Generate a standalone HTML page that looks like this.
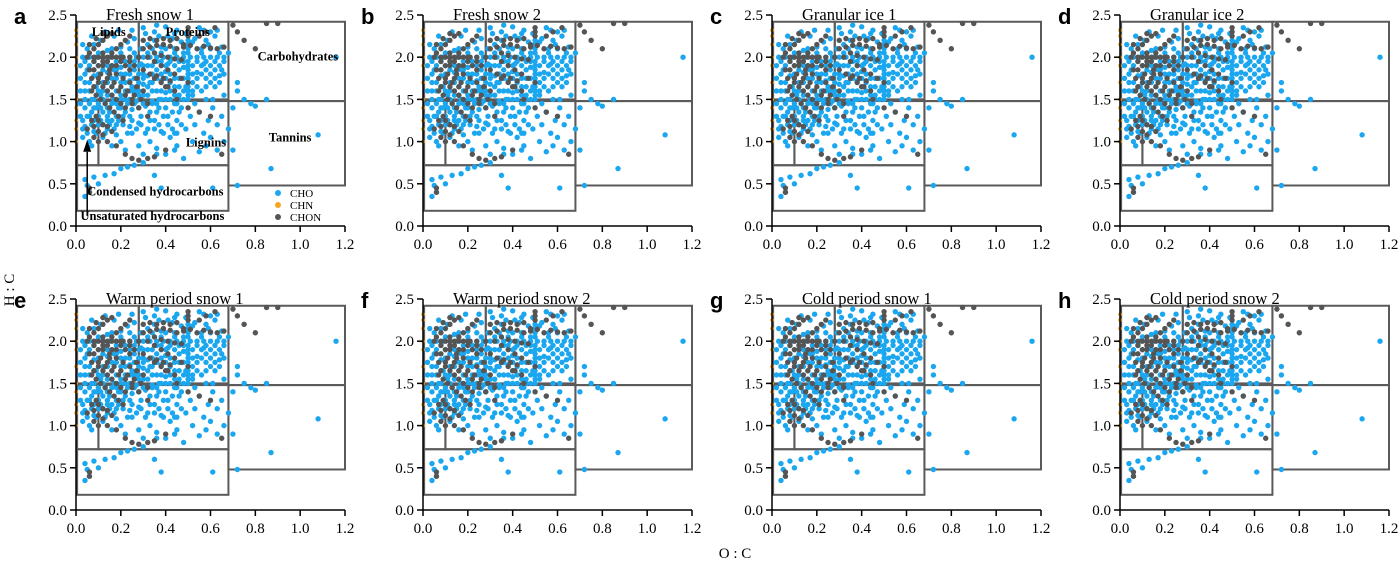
<!DOCTYPE html>
<html><head><meta charset="utf-8">
<style>
html,body{margin:0;padding:0;background:#fff;}
svg{display:block;}
</style></head>
<body>
<svg id="fig" width="1400" height="572" viewBox="0 0 1400 572" xmlns="http://www.w3.org/2000/svg" font-family="Liberation Serif, serif">
<text x="14" y="290" font-size="15" text-anchor="middle" transform="rotate(-90 14 290)">H : C</text>
<text x="735" y="558" font-size="15" text-anchor="middle">O : C</text>
</svg>
<script>
const panelLetters = ['a','b','c','d','e','f','g','h'];
const panelTitles = ['Fresh snow 1','Fresh snow 2','Granular ice 1','Granular ice 2','Warm period snow 1','Warm period snow 2','Cold period snow 1','Cold period snow 2'];
const xTicks = [0,0.2,0.4,0.6,0.8,1.0,1.2];
const yTicks = [0,0.5,1.0,1.5,2.0,2.5];
// compound class regions [x1,y1,x2,y2] in O:C / H:C
const regionBoxes = [[0.005,1.5,0.28,2.42],[0.28,1.5,0.68,2.42],[0.68,1.48,1.2,2.42],[0.005,0.72,0.1,1.48],[0.1,0.72,0.68,1.48],[0.68,0.48,1.2,1.48],[0.005,0.18,0.68,0.72]];
// CHO points (O:C*100, H:C*100)
const choPts = "3,200 6,200 9,200 12,200 15,200 18,200 21,200 24,200 27,200 30,200 33,200 36,200 39,200 42,200 45,200 48,200 51,200 54,200 57,200 60,200 63,200 66,200 50,150 50,155 50,160 50,165 50,170 50,175 50,180 50,185 50,190 50,195 50,205 50,210 50,215 50,220 5,185 8,178 10,190 12,170 14,182 16,165 18,175 20,188 22,160 24,172 26,185 28,155 30,168 32,178 34,190 36,160 38,172 40,183 42,150 44,165 46,175 48,188 52,170 54,182 56,160 58,175 60,190 62,165 64,178 66,155 4,160 7,150 9,140 11,155 13,145 15,135 17,150 19,140 21,130 23,145 25,138 27,148 29,130 31,142 33,135 35,125 37,140 39,130 41,120 43,135 45,125 47,140 49,115 51,130 53,120 55,135 57,110 59,125 61,140 63,120 65,130 5,210 8,215 11,220 14,208 17,225 20,212 23,218 26,222 29,210 32,215 35,220 38,212 41,225 44,210 47,218 53,222 56,210 59,215 62,225 65,212 45,232 55,235 60,230 35,230 40,236 3,125 4,118 5,110 3,105 6,100 8,112 7,95 10,120 12,105 14,115 16,95 18,108 20,100 22,90 25,110 28,95 30,85 33,100 36,92 40,85 42,105 45,95 48,80 52,100 55,88 58,95 60,105 63,90 66,100 68,115 70,140 72,160 75,150 78,145 80,142 85,150 72,170 68,205 4,55 5,48 6,40 4,35 8,58 10,50 13,60 17,62 20,68 23,70 26,72 30,75 35,60 38,45 36,85 44,90 61,45 70,90 72,48 87,68 108,108 116,200 6,170 9,165 13,192 17,185 21,178 25,165 29,192 33,170 37,150 41,192 45,145 49,165 53,145 57,192 61,150 65,185 10,130 14,125 18,120 24,118 28,122 32,115 38,112 44,110 7,135 11,140 20,155 26,158 34,148 40,158 46,155 58,150";
const choCorePts = "2,190 2,175 2,160 2,145 2,130 4,195 4,180 4,170 4,150 4,140 6,190 6,160 6,145 6,130 8,195 8,165 8,150 8,140 8,125 10,205 10,180 10,160 10,145 12,185 12,160 12,150 12,135 12,120 14,190 14,170 14,155 14,140 14,130 16,210 16,190 16,175 16,155 16,145 16,125 18,195 18,185 18,160 18,145 18,130 20,205 20,180 20,170 20,150 20,140 22,195 22,180 22,170 22,150 22,135 24,210 24,190 24,180 24,160 24,150 24,130 26,205 26,195 26,175 26,160 26,145 28,190 28,180 28,170 28,160 28,140 30,190 30,180 30,175 30,155 30,145 32,205 32,190 32,165 32,155 34,210 34,180 34,170 34,160 34,145 36,195 36,185 36,175 36,145 36,135 38,205 38,195 38,180 38,160 38,150 40,210 40,190 40,175 40,165 40,150 40,140 42,195 42,180 42,170 42,160 44,205 44,190 44,175 44,155 44,145 46,195 46,185 46,165 46,150 46,135 48,205 48,195 48,175 48,160 48,150 52,190 52,180 52,160 52,155 54,195 54,175 54,165 56,205 56,190 56,180 58,195 58,185 58,165 60,210 60,180 60,170 62,195 62,185 62,175 64,205 64,190 64,170 66,195 66,180 3,115 5,130 7,120 9,110 11,125 13,110 15,120 17,115 19,125 21,120 23,110 25,125 27,115 29,120 31,110 33,125 35,115 37,120 39,110 41,130 43,115 45,110 47,120 3,215 7,225 13,230 19,232 25,232 31,228 37,225 43,222 49,228 57,232 63,232 52,218 58,220 44,228 30,235 36,238";
const chonPts = "8,210 10,215 12,220 14,225 16,228 10,190 12,195 14,200 16,205 18,210 20,215 22,220 24,225 5,200 8,200 12,200 16,200 20,200 24,200 28,200 8,185 11,180 14,175 17,170 20,165 23,160 26,155 29,150 32,145 10,175 13,170 16,165 19,160 22,155 25,150 12,190 15,185 18,180 21,175 24,170 27,165 30,160 30,210 33,212 36,214 39,215 42,213 45,210 48,212 51,214 54,210 57,213 60,211 63,210 66,212 35,195 38,190 41,185 44,180 47,175 50,170 35,175 38,170 41,165 44,160 55,225 58,230 62,235 70,238 72,230 75,220 80,210 85,240 90,240 5,115 8,118 10,112 12,108 7,125 9,130 14,100 18,95 22,85 25,80 28,78 32,80 35,82 40,90 6,45 6,40 65,85 40,165 45,150 50,140 55,135 60,130 32,130 28,140 25,145 50,225 50,230 50,235 6,215 9,222 12,228 15,180 18,190 21,200 24,185 27,175 6,205 8,195 10,200 12,205 14,195 16,190 18,200 20,195 22,190 24,195 26,190 10,170 12,165 14,160 16,155 18,150 20,145 22,140 7,160 9,155 11,150 13,145 15,140 17,135 19,130 21,125 6,185 7,175 8,165 30,185 33,180 36,178 39,175 42,172 32,200 35,205 38,202 41,200 44,198 47,197 30,220 33,222 36,220 39,222 42,220 45,222 48,215 10,125 12,120 14,118 16,112 8,105 10,100";
const chnPts = "0,100 0,115 0,125 0,140 0,150 0,170 0,190 0,200 0,215 0,225 0,232";
const legendLabels = ['CHO','CHN','CHON'];
const seriesColors = ['#1aa7f0','#f5a623','#555555'];

const NS = 'http://www.w3.org/2000/svg';
const svg = document.getElementById('fig');
const colX = [76,423,772,1120];
const rowY = [226,510];
const PW = 269, PH = 211;
function parse(s){return s.split(' ').map(p=>p.split(',').map(Number).map(v=>v/100));}
const cho = parse(choPts).concat(parse(choCorePts)), chon = parse(chonPts), chn = parse(chnPts);
function el(tag, attrs, parent){const e=document.createElementNS(NS,tag);for(const k in attrs)e.setAttribute(k,attrs[k]);(parent||svg).appendChild(e);return e;}

for(let p=0;p<8;p++){
  const x0 = colX[p%4], y0 = rowY[Math.floor(p/4)];
  const sx = v => x0 + v/1.2*PW;
  const sy = v => y0 - v/2.5*PH;
  const g = el('g',{});
  
  
  regionBoxes.forEach((b,i)=>{
    const r = el('rect',{x:sx(b[0]),y:sy(b[3]),width:sx(b[2])-sx(b[0]),height:sy(b[1])-sy(b[3]),fill:'none',stroke:'#5a5a5a','stroke-width':2},g);
    
    
  });
  const drawSet=(pts,color,rad,name)=>{
    pts.forEach(pt=>{
      const c = el('circle',{cx:sx(pt[0]),cy:sy(pt[1]),r:rad,fill:color},g);
      
      
    });
  };
  drawSet(cho,seriesColors[0],2.7,'cho-point');
  drawSet(chn,seriesColors[1],1.8,'chn-point');
  drawSet(chon,seriesColors[2],2.7,'chon-point');
  el('line',{x1:x0,y1:y0,x2:x0+PW,y2:y0,stroke:'#000','stroke-width':1.5},g);
  el('line',{x1:x0,y1:y0,x2:x0,y2:y0-PH,stroke:'#000','stroke-width':1.5},g);
  xTicks.forEach(t=>{
    el('line',{x1:sx(t),y1:y0,x2:sx(t),y2:y0+6,stroke:'#000','stroke-width':1.5},g);
    const tx = el('text',{x:sx(t),y:y0+23,'font-size':15,'text-anchor':'middle','font-family':'Liberation Serif, serif'},g);
    tx.textContent = t.toFixed(1);
    
    
  });
  yTicks.forEach(t=>{
    el('line',{x1:x0-6,y1:sy(t),x2:x0,y2:sy(t),stroke:'#000','stroke-width':1.5},g);
    const ty = el('text',{x:x0-9,y:sy(t)+5,'font-size':15,'text-anchor':'end','font-family':'Liberation Serif, serif'},g);
    ty.textContent = t.toFixed(1);
    
    
  });
  const lt = el('text',{x:x0-62,y:y0-PH+9,'font-size':22,'font-weight':'bold','font-family':'Liberation Sans, sans-serif'},g);
  lt.textContent = panelLetters[p];
  
  
  const tt = el('text',{x:x0+30,y:y0-PH+5,'font-size':16.5,'font-family':'Liberation Serif, serif'},g);
  tt.textContent = panelTitles[p];
  
  
  if(p===0){
    const labels=[['Lipids',0.07,2.25],['Proteins',0.4,2.25],['Carbohydrates',0.81,1.96],['Tannins',0.86,1.0],['Lignins',0.49,0.94],['Condensed hydrocarbons',0.05,0.36],['Unsaturated hydrocarbons',0.02,0.07]];
    labels.forEach(l=>{
      const a = el('text',{x:sx(l[1]),y:sy(l[2]),'font-size':12.5,'font-weight':'bold','font-family':'Liberation Serif, serif'},g);
      a.textContent=l[0];
      
      
    });
    el('line',{x1:sx(0.05),y1:sy(0.12),x2:sx(0.05),y2:sy(0.88),stroke:'#000','stroke-width':1.5},g);
    el('polygon',{points:`${sx(0.05)-4},${sy(0.88)} ${sx(0.05)+4},${sy(0.88)} ${sx(0.05)},${sy(1.02)}`,fill:'#000'},g);
    legendLabels.forEach((lab,i)=>{
      const ly = 193 + i*12;
      const c = el('circle',{cx:278,cy:ly,r:3,fill:seriesColors[i]},g);
      
      
      const t = el('text',{x:290,y:ly+4,'font-size':11,'font-family':'Liberation Serif, serif'},g);
      t.textContent = lab;
      
      
    });
  }
}
</script>
</body></html>
